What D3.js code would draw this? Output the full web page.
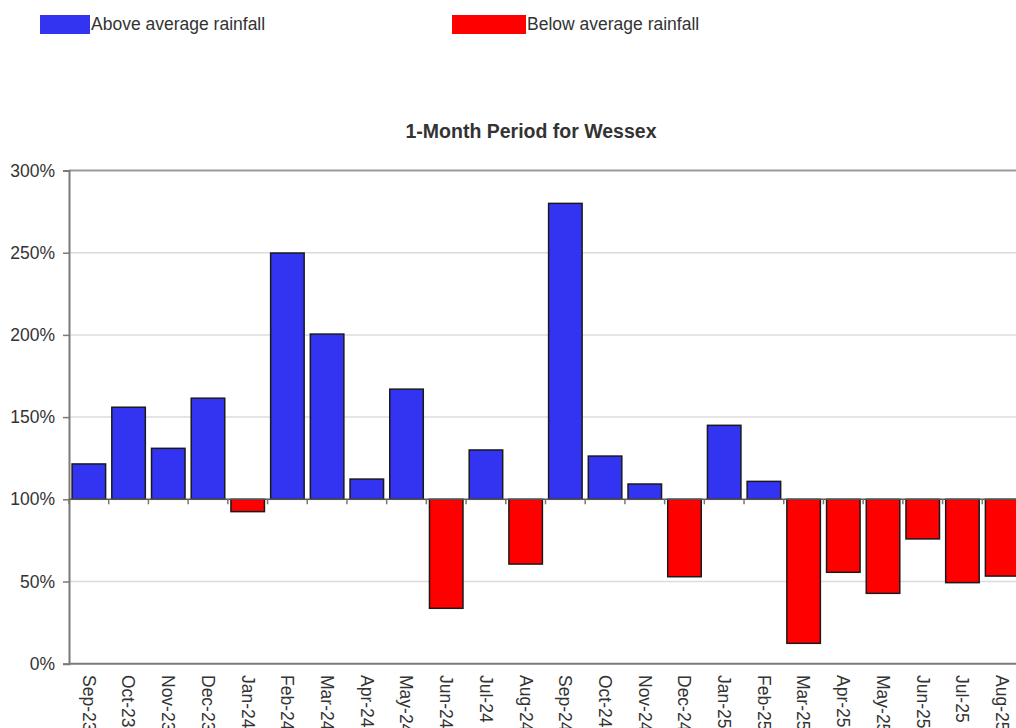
<!DOCTYPE html>
<html>
<head>
<meta charset="utf-8">
<script src="https://cdn.jsdelivr.net/npm/d3@7/dist/d3.min.js"></script>
<style>
  html, body { margin: 0; padding: 0; background: #fff; }
  svg { display: block; }
  text { font-family: "Liberation Sans", Arial, sans-serif; fill: #333; }
</style>
</head>
<body>
<svg id="chart" width="1016" height="728"></svg>
<script>
const categories = ["Sep-23","Oct-23","Nov-23","Dec-23","Jan-24","Feb-24","Mar-24","Apr-24","May-24","Jun-24","Jul-24","Aug-24","Sep-24","Oct-24","Nov-24","Dec-24","Jan-25","Feb-25","Mar-25","Apr-25","May-25","Jun-25","Jul-25","Aug-25"];
const values = [121.5,156,131,161.5,92.5,249.8,200.5,112.3,167,33.7,130,60.6,280,126.3,109.3,52.9,145,110.9,12.4,55.6,42.8,75.9,49.3,53.3];
const yTicks = [0,50,100,150,200,250,300];
const legendLabels = ["Above average rainfall","Below average rainfall"];
const chartTitle = "1-Month Period for Wessex";
const baseline = 100;

(function () {
const svg = d3.select("#chart");
const pLeft = 69, pRight = 1022, pTop = 170.5, pBottom = 663.7;

const x = d3.scaleBand().domain(categories).range([pLeft, pRight]).paddingInner(0.156).paddingOuter(0.078);
const y = d3.scaleLinear().domain([0, 300]).range([pBottom, pTop]);

const blue = "#3333f2", red = "#ff0000";

// Legend
const legend = svg.append("g");
[[40, 90, blue, legendLabels[0]], [452, 526, red, legendLabels[1]]].forEach(([x0, x1, c, t]) => {
  legend.append("rect").attr("x", x0).attr("y", 15).attr("width", x1 - x0).attr("height", 19).attr("fill", c);
  legend.append("text").attr("x", x1 + 1).attr("y", 30).attr("font-size", 17.5).attr("fill", "#222").text(t);
});

// Title
svg.append("text").attr("x", 531).attr("y", 138).attr("text-anchor", "middle")
  .attr("font-size", 19.5).attr("font-weight", "bold").attr("fill", "#222").text(chartTitle);

// Grid lines
svg.append("g").selectAll("line").data(yTicks.filter(d => d !== 0 && d !== 300 && d !== 100)).join("line")
  .attr("x1", pLeft).attr("x2", 1016).attr("y1", d => y(d)).attr("y2", d => y(d))
  .attr("stroke", "#dcdcdc").attr("stroke-width", 1.5);

// Top border line
svg.append("line").attr("x1", pLeft).attr("x2", 1016).attr("y1", y(300)).attr("y2", y(300))
  .attr("stroke", "#9a9a9a").attr("stroke-width", 2);

// Y axis
const yAxis = svg.append("g").attr("transform", `translate(${pLeft},0)`)
  .call(d3.axisLeft(y).tickValues(yTicks).tickFormat(d => d + "%").tickSize(6).tickPadding(8));
yAxis.select(".domain").attr("stroke", "#7a7a7a").attr("stroke-width", 2);
yAxis.selectAll(".tick line").attr("stroke", "#7a7a7a").attr("stroke-width", 1.5);
yAxis.selectAll(".tick text").attr("font-size", 17.5).attr("fill", "#333")
  .style("font-family", '"Liberation Sans", Arial, sans-serif');

// Bottom axis line at 0%
svg.append("line").attr("x1", pLeft).attr("x2", 1016).attr("y1", y(0)).attr("y2", y(0))
  .attr("stroke", "#7a7a7a").attr("stroke-width", 2);

// Bars
const data = categories.map((c, i) => ({ c, v: values[i] }));
svg.append("g").selectAll("rect").data(data).join("rect")
  .attr("x", d => x(d.c))
  .attr("width", x.bandwidth())
  .attr("y", d => y(Math.max(d.v, baseline)))
  .attr("height", d => Math.abs(y(d.v) - y(baseline)))
  .attr("fill", d => d.v >= baseline ? blue : red)
  .attr("stroke", "#1a1a1a").attr("stroke-width", 1.5);

// Category axis at 100%
const gap = (x.step() - x.bandwidth()) / 2;
svg.append("line").attr("x1", pLeft).attr("x2", 1016).attr("y1", y(baseline)).attr("y2", y(baseline))
  .attr("stroke", "#555").attr("stroke-width", 1.5);
svg.append("g").selectAll("line").data(categories).join("line")
  .attr("x1", d => x(d) - gap).attr("x2", d => x(d) - gap)
  .attr("y1", y(baseline)).attr("y2", y(baseline) + 5)
  .attr("stroke", "#777").attr("stroke-width", 1.5);

// Category labels (rotated)
svg.append("g").selectAll("text").data(categories).join("text")
  .attr("transform", d => `translate(${x(d) + x.bandwidth() / 2},675) rotate(90)`)
  .attr("dy", "0.35em").attr("font-size", 17.5).attr("fill", "#333").text(d => d);
})();
</script>
</body>
</html>
